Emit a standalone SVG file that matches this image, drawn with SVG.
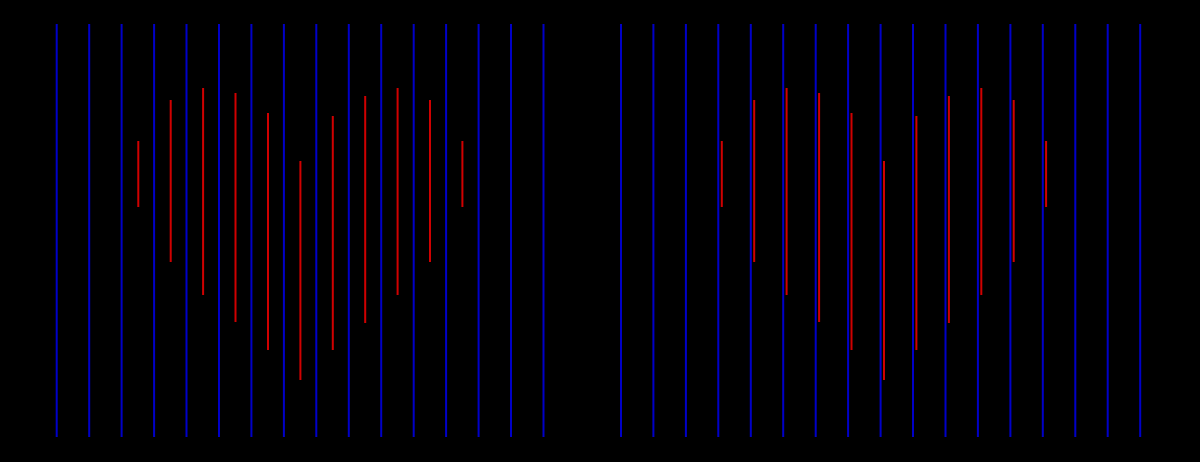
<svg xmlns="http://www.w3.org/2000/svg" width="1200" height="462" viewBox="0 0 1200 462">
<style>
.b{stroke:#0000c8;stroke-width:2;fill:none}
.r{stroke:#d00000;stroke-width:2;fill:none}
</style>
<rect width="1200" height="462" fill="#000"/>
<g id="left-grid">
<path class="b" d="M56.7 24V437M89.2 24V437M121.6 24V437M154.1 24V437M186.5 24V437M219 24V437M251.4 24V437M283.9 24V437M316.3 24V437M348.8 24V437M381.2 24V437M413.7 24V437M446.1 24V437M478.6 24V437M511 24V437M543.5 24V437"/>
</g>
<g id="left-heart">
<path class="r" d="M138.3 141V207M170.7 100V262M203.1 88V295M235.5 93V322M268 113V350M300.4 161V380M332.8 116V350M365.2 96V323M397.6 88V295M430 100V262M462.4 141V207"/>
</g>
<g id="right-grid">
<path class="b" d="M621 24V437M653.4 24V437M685.9 24V437M718.3 24V437M750.8 24V437M783.2 24V437M815.7 24V437M848.1 24V437M880.6 24V437M913 24V437M945.5 24V437M977.9 24V437M1010.4 24V437M1042.8 24V437M1075.3 24V437M1107.7 24V437M1140.2 24V437"/>
</g>
<g id="right-heart">
<path class="r" d="M721.8 141V207M754.2 100V262M786.6 88V295M819.1 93V322M851.5 113V350M884 161V380M916.4 116V350M948.9 96V323M981.3 88V295M1013.7 100V262M1046.1 141V207"/>
</g>
</svg>
